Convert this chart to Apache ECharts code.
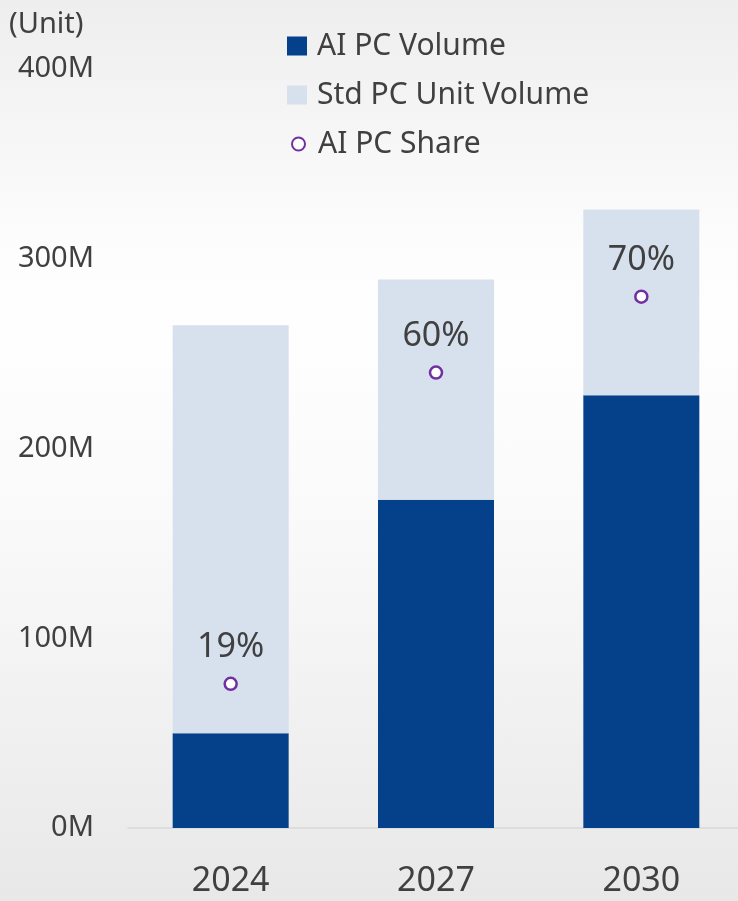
<!DOCTYPE html>
<html>
<head>
<meta charset="utf-8">
<script src="https://cdn.jsdelivr.net/npm/echarts@6/dist/echarts.min.js"></script>
<style>
	html, body { margin: 0; padding: 0; }
	#main {
		width: 738px;
		height: 901px;
		background: linear-gradient(to bottom, #eeeeee 0%, #fdfdfd 28%, #fefefe 38%, #f9f9f9 60%, #e8e8e8 100%);
	}
</style>
</head>
<body>
<div id="main"></div>
<script>
// 数据
var years = ['2024', '2027', '2030'];
var aiVolume = [50, 173, 228];      // M units
var stdVolume = [215, 116, 98];     // M units
var aiShare = [19, 60, 70];         // %
var yTicks = [0, 100, 200, 300, 400];

var textColor = '#404040';
var fontFamily = '"Noto Sans", sans-serif';

var myChart = echarts.init(document.getElementById('main'));

var option = {
	backgroundColor : 'transparent',
	animation : false,
	title : {
		text : '(Unit)',
		left : 4,
		top : 5,
		textStyle : {
			color : textColor,
			fontSize : 29,
			fontWeight : 'normal',
			fontFamily : fontFamily
		}
	},
	legend : [
		{
			orient : 'vertical',
			left : 287,
			top : 31,
			padding : 0,
			itemWidth : 20,
			itemHeight : 19,
			itemGap : 19,
			selectedMode : false,
			textStyle : {
				color : textColor,
				fontSize : 30,
				lineHeight : 30,
				fontFamily : fontFamily,
				padding : [0, 0, 0, 5]
			},
			data : [
				{ name : 'AI PC Volume', icon : 'rect' },
				{ name : 'Std PC Unit Volume', icon : 'rect' }
			]
		},
		{
			orient : 'vertical',
			left : 291,
			top : 129,
			padding : 0,
			itemWidth : 13,
			itemHeight : 13,
			selectedMode : false,
			textStyle : {
				color : textColor,
				fontSize : 30,
				lineHeight : 30,
				fontFamily : fontFamily,
				padding : [0, 0, 0, 8]
			},
			data : [
				{ name : 'AI PC Share', icon : 'circle' }
			]
		}
	],
	grid : {
		left : 128,
		width : 616,
		top : 69,
		bottom : 73,
		containLabel : false,
		outerBoundsMode : 'none'
	},
	xAxis : {
		type : 'category',
		data : years,
		axisLine : {
			lineStyle : { color : '#d9d9d9', width : 1.5 }
		},
		axisTick : { show : false },
		axisLabel : {
			margin : 36,
			color : textColor,
			fontSize : 34,
			fontFamily : fontFamily
		}
	},
	yAxis : [
		{
			type : 'value',
			min : 0,
			max : 400,
			interval : 100,
			splitLine : { show : false },
			axisLine : { show : false },
			axisTick : { show : false },
			axisLabel : {
				margin : 34,
				color : textColor,
				fontSize : 29,
				fontFamily : fontFamily,
				formatter : function(v) {
					return yTicks.indexOf(v) >= 0 ? v + 'M' : '';
				}
			}
		},
		{
			type : 'value',
			min : 0,
			max : 100,
			show : false,
			splitLine : { show : false }
		}
	],
	series : [
		{
			name : 'AI PC Volume',
			type : 'bar',
			stack : 'total',
			barWidth : 116,
			itemStyle : { color : '#05418a' },
			data : aiVolume
		},
		{
			name : 'Std PC Unit Volume',
			type : 'bar',
			stack : 'total',
			barWidth : 116,
			itemStyle : { color : '#d7e0ed' },
			data : stdVolume
		},
		{
			name : 'AI PC Share',
			type : 'scatter',
			yAxisIndex : 1,
			symbol : 'circle',
			symbolSize : 12,
			itemStyle : {
				color : '#ffffff',
				borderColor : '#7030a0',
				borderWidth : 2.5,
				opacity : 1
			},
			label : {
				show : true,
				position : 'top',
				distance : 12,
				color : textColor,
				fontSize : 34,
				fontFamily : fontFamily,
				formatter : '{c}%'
			},
			data : aiShare
		}
	]
};
myChart.setOption(option, true);
</script>
</body>
</html>
